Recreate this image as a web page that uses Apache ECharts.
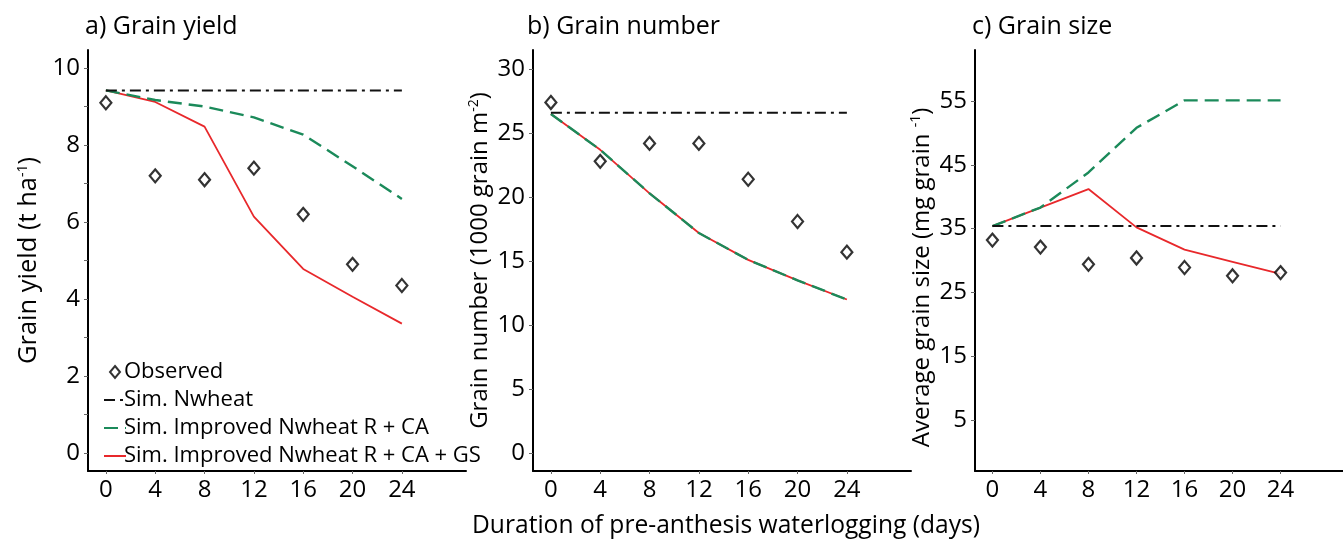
<!DOCTYPE html>
<html>
<head>
<meta charset="utf-8">
<script src="https://cdn.jsdelivr.net/npm/echarts@6/dist/echarts.min.js"></script>
<style>html,body{margin:0;padding:0;background:#fff}#c{width:1343px;height:542px}</style>
</head>
<body>
<div id="c"></div>
<script>
// ---- data ----
const days = [0, 4, 8, 12, 16, 20, 24];
const xTicks = [0, 4, 8, 12, 16, 20, 24];

// a) Grain yield (t ha-1)
const yieldObs = [9.1, 7.2, 7.1, 7.4, 6.2, 4.9, 4.35];
const yieldNwheat = [9.42, 9.42, 9.42, 9.42, 9.42, 9.42, 9.42];
const yieldRCA = [9.42, 9.17, 9.0, 8.72, 8.27, 7.45, 6.6];
const yieldRCAGS = [9.42, 9.12, 8.48, 6.14, 4.78, 4.06, 3.36];
const yTicksA = [0, 2, 4, 6, 8, 10];
const yMinorA = [0, 1, 2, 3, 4, 5, 6, 7, 8, 9, 10];

// b) Grain number (1000 grain m-2)
const numObs = [27.4, 22.8, 24.2, 24.2, 21.4, 18.1, 15.7];
const numNwheat = [26.6, 26.6, 26.6, 26.6, 26.6, 26.6, 26.6];
const numRCA = [26.5, 23.7, 20.3, 17.2, 15.1, 13.5, 12.0];
const numRCAGS = [26.5, 23.7, 20.3, 17.2, 15.1, 13.5, 12.0];
const yTicksB = [0, 5, 10, 15, 20, 25, 30];

// c) Grain size (mg grain-1)
const sizeObs = [33.2, 32.1, 29.4, 30.4, 28.9, 27.6, 28.1];
const sizeNwheat = [35.4, 35.4, 35.4, 35.4, 35.4, 35.4, 35.4];
const sizeRCA = [35.4, 38.3, 43.8, 50.8, 55.1, 55.1, 55.1];
const sizeRCAGS = [35.4, 38.3, 41.2, 35.2, 31.7, 29.8, 27.9];
const yTicksC = [5, 15, 25, 35, 45, 55];

const names = ['Observed', 'Sim. Nwheat', 'Sim. Improved Nwheat R + CA', 'Sim. Improved Nwheat R + CA + GS'];

// ---- styles ----
const FONT = 'Open Sans';
const GREEN = '#1b8a5a';
const RED = '#e8282b';
const pair = (arr) => days.map((d, i) => [d, arr[i]]);

const grids = [
  { left: 88, top: 50, width: 378, height: 421 },
  { left: 533, top: 50, width: 378, height: 421 },
  { left: 975, top: 50, width: 378, height: 421 }
];

function xAxisFor(i) {
  return {
    type: 'value', gridIndex: i, min: -1.45, max: 29.2,
    axisLine: { show: true, onZero: false, lineStyle: { color: '#000', width: 2 } },
    axisTick: { show: true, customValues: xTicks, length: 3, lineStyle: { color: '#666', width: 1 } },
    axisLabel: { customValues: xTicks, color: '#000', fontFamily: FONT, fontSize: 24, margin: 7 },
    splitLine: { show: false }
  };
}
function yAxisFor(i, min, max, labels, ticks, nameRich, gap, size, pad) {
  return {
    type: 'value', gridIndex: i, min: min, max: max,
    name: nameRich, nameLocation: 'middle', nameRotate: 90, nameGap: gap,
    nameTextStyle: {
      color: '#000', fontFamily: FONT, fontSize: size, padding: pad,
      rich: {
        a: { fontFamily: FONT, fontSize: size, color: '#000' },
        s: { fontFamily: FONT, fontSize: 14, color: '#000', verticalAlign: 'top', padding: [0, 0, 12, 0] }
      }
    },
    axisLine: { show: true, onZero: false, lineStyle: { color: '#000', width: 2 } },
    axisTick: { show: true, customValues: ticks, length: 4, lineStyle: { color: '#666', width: 1 } },
    axisLabel: { customValues: labels, color: '#000', fontFamily: FONT, fontSize: 24, margin: 8 },
    splitLine: { show: false }
  };
}

const series = [];
function addPanel(i, obs, nw, rca, rcags) {
  series.push({
    name: names[3], type: 'line', xAxisIndex: i, yAxisIndex: i, data: pair(rcags),
    symbol: 'none', z: 2, lineStyle: { color: RED, width: 1.8 }, itemStyle: { color: RED }
  });
  series.push({
    name: names[2], type: 'line', xAxisIndex: i, yAxisIndex: i, data: pair(rca),
    symbol: 'none', z: 3, lineStyle: { color: GREEN, width: 2.4, type: [14, 7] }, itemStyle: { color: GREEN }
  });
  series.push({
    name: names[1], type: 'line', xAxisIndex: i, yAxisIndex: i, data: pair(nw),
    symbol: 'none', z: 3, lineStyle: { color: '#111', width: 2, type: [11, 5, 3, 5] }, itemStyle: { color: '#111' }
  });
  series.push({
    name: names[0], type: 'scatter', xAxisIndex: i, yAxisIndex: i, data: pair(obs),
    symbol: 'diamond', symbolSize: [11, 13], z: 5,
    itemStyle: { color: '#fff', borderColor: '#000', borderWidth: 2.2 }
  });
}
addPanel(0, yieldObs, yieldNwheat, yieldRCA, yieldRCAGS);
addPanel(1, numObs, numNwheat, numRCA, numRCAGS);
addPanel(2, sizeObs, sizeNwheat, sizeRCA, sizeRCAGS);

const titleStyle = { color: '#000', fontFamily: FONT, fontSize: 25, fontWeight: 'normal' };
const hiddenDot = { opacity: 0 };

const option = {
  animation: false,
  backgroundColor: '#fff',
  title: [
    { text: 'a) Grain yield', left: 80, top: 9, textStyle: titleStyle },
    { text: 'b) Grain number', left: 522, top: 9, textStyle: titleStyle },
    { text: 'c) Grain size', left: 967, top: 9, textStyle: titleStyle },
    { text: 'Duration of pre-anthesis waterlogging (days)', left: 467, top: 508,
      textStyle: Object.assign({}, titleStyle, { fontSize: 24.6 }) }
  ],
  legend: {
    data: [
      { name: names[0], icon: 'path://M5,0 L10,6 L5,12 L0,6 Z' },
      { name: names[1], itemStyle: hiddenDot },
      { name: names[2], itemStyle: hiddenDot },
      { name: names[3], itemStyle: hiddenDot }
    ],
    orient: 'vertical', left: 98, top: 356, itemGap: 6,
    itemWidth: 22, itemHeight: 12, selectedMode: false, symbolKeepAspect: true,
    textStyle: { color: '#000', fontFamily: FONT, fontSize: 22, padding: [0, 0, 0, -7] }
  },
  grid: grids,
  xAxis: [xAxisFor(0), xAxisFor(1), xAxisFor(2)],
  yAxis: [
    yAxisFor(0, -0.47, 10.47, yTicksA, yMinorA, '{a|Grain yield (t ha}{s|-1}{a|)}', 46, 25.5, 0),
    yAxisFor(1, -1.4, 31.5, yTicksB, yTicksB, '{a|Grain number (1000 grain m}{s|-2}{a|)}', 40, 24, 0),
    yAxisFor(2, -3, 63, yTicksC, yTicksC, '{a|Average grain size (mg grain }{s|-1}{a|)}', 40, 24, [0, 34, 0, 0])
  ],
  series: series
};

const chart = echarts.init(document.getElementById('c'), null, { renderer: 'canvas' });
chart.setOption(option);
</script>
</body>
</html>
